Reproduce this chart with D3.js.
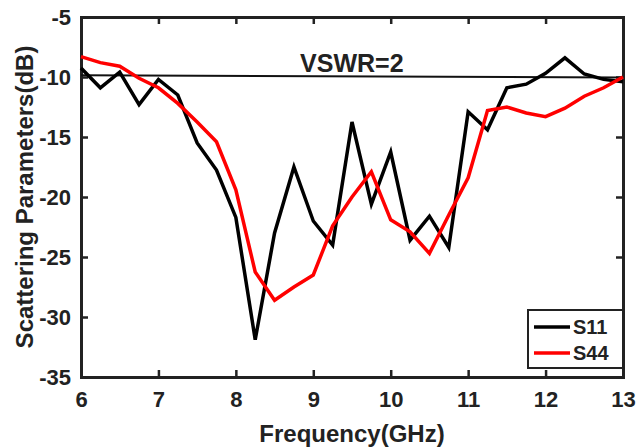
<!DOCTYPE html>
<html>
<head>
<meta charset="utf-8">
<script src="https://cdn.jsdelivr.net/npm/d3@7"></script>
<style>
  body { margin: 0; background: #fff; }
  text { font-family: "Liberation Sans", Arial, sans-serif; font-weight: bold; fill: #222; }
</style>
</head>
<body>
<div id="chart"></div>
<script>
// frequencies (GHz), 0.25 step
const freqs = [6, 6.25, 6.5, 6.75, 7, 7.25, 7.5, 7.75, 8, 8.25, 8.5, 8.75, 9, 9.25, 9.5, 9.75,
    10, 10.25, 10.5, 10.75, 11, 11.25, 11.5, 11.75, 12, 12.25, 12.5, 12.75, 13]
const s11 = [-9.25, -10.9, -9.6, -12.3, -10.2, -11.5, -15.5, -17.75, -21.7, -31.9, -23, -17.5, -22, -24,
    -13.75, -20.6, -16.25, -23.6, -21.6, -24.2, -12.9, -14.4, -10.9, -10.6, -9.7, -8.4, -9.75, -10.2, -10.4]
const s44 = [-8.3, -8.8, -9.1, -10.1, -10.9, -12.2, -13.75, -15.4, -19.4, -26.25, -28.6, -27.5, -26.5, -22.4,
    -20, -17.9, -21.9, -22.9, -24.7, -21.5, -18.4, -12.8, -12.5, -13, -13.3, -12.6, -11.6, -10.9, -10]
const vswr = [{f: 6, db: -9.85}, {f: 13, db: -10.05}]
const xTicks = [6, 7, 8, 9, 10, 11, 12, 13]
const yTicks = [-5, -10, -15, -20, -25, -30, -35]

function draw_chart() {
    const width = 636, height = 448
    const margins = {'left': 81, 'right': 13, 'top': 17, 'bottom': 71}

    const svg = d3.select('#chart').append('svg')
        .attr('width', width).attr('height', height)

    const x = d3.scaleLinear().domain([6, 13]).range([margins.left, width - margins.right])
    const y = d3.scaleLinear().domain([-35, -5]).range([height - margins.bottom, margins.top])

    // inward ticks on all four sides
    svg.append('g').attr('transform', `translate(0,${y(-35)})`)
        .call(d3.axisBottom(x).tickValues(xTicks).tickSize(-7).tickPadding(14).tickFormat(d3.format('d')))
    svg.append('g').attr('transform', `translate(0,${y(-5)})`)
        .call(d3.axisTop(x).tickValues(xTicks).tickSize(-7).tickFormat(''))
    svg.append('g').attr('transform', `translate(${x(6)},0)`)
        .call(d3.axisLeft(y).tickValues(yTicks).tickSize(-7).tickPadding(10).tickFormat(d => d))
    svg.append('g').attr('transform', `translate(${x(13)},0)`)
        .call(d3.axisRight(y).tickValues(yTicks).tickSize(-7).tickFormat(''))

    svg.selectAll('.domain').attr('stroke', '#222').attr('stroke-width', 3)
    svg.selectAll('.tick line').attr('stroke', '#222').attr('stroke-width', 2.5)
    svg.selectAll('.tick text').style('font-size', '22px').attr('fill', '#222')

    const line = d3.line().x(d => x(d[0])).y(d => y(d[1]))

    // VSWR = 2 reference line
    svg.append('path').datum(vswr.map(d => [d.f, d.db]))
        .attr('d', line).attr('fill', 'none').attr('stroke', '#111').attr('stroke-width', 2)
    svg.append('text').attr('x', x(8.83)).attr('y', y(-9.55))
        .style('font-size', '25px').attr('fill', '#111').text('VSWR=2')

    svg.append('path').datum(freqs.map((f, i) => [f, s11[i]]))
        .attr('d', line).attr('fill', 'none').attr('stroke', '#000').attr('stroke-width', 3.5)
        .attr('stroke-linejoin', 'miter')
    svg.append('path').datum(freqs.map((f, i) => [f, s44[i]]))
        .attr('d', line).attr('fill', 'none').attr('stroke', '#ff0000').attr('stroke-width', 3.5)

    // legend
    const legend = svg.append('g').attr('transform', 'translate(528,310)')
    legend.append('rect').attr('width', 95).attr('height', 58)
        .attr('fill', '#fff').attr('stroke', '#222').attr('stroke-width', 2)
    const items = [['S11', '#000'], ['S44', '#ff0000']]
    items.forEach(function (item, i) {
        legend.append('line').attr('x1', 6).attr('x2', 42).attr('y1', 17 + i * 26).attr('y2', 17 + i * 26)
            .attr('stroke', item[1]).attr('stroke-width', 3.5)
        legend.append('text').attr('x', 45).attr('y', 24 + i * 26)
            .style('font-size', '20px').text(item[0])
    })

    // axis titles
    svg.append('text').attr('x', x(9.5)).attr('y', 442).attr('text-anchor', 'middle')
        .style('font-size', '24px').text('Frequency(GHz)')
    svg.append('text').attr('transform', `translate(33,${y(-20)}) rotate(-90)`).attr('text-anchor', 'middle')
        .style('font-size', '24px').text('Scattering Parameters(dB)')
}

draw_chart()
</script>
</body>
</html>
